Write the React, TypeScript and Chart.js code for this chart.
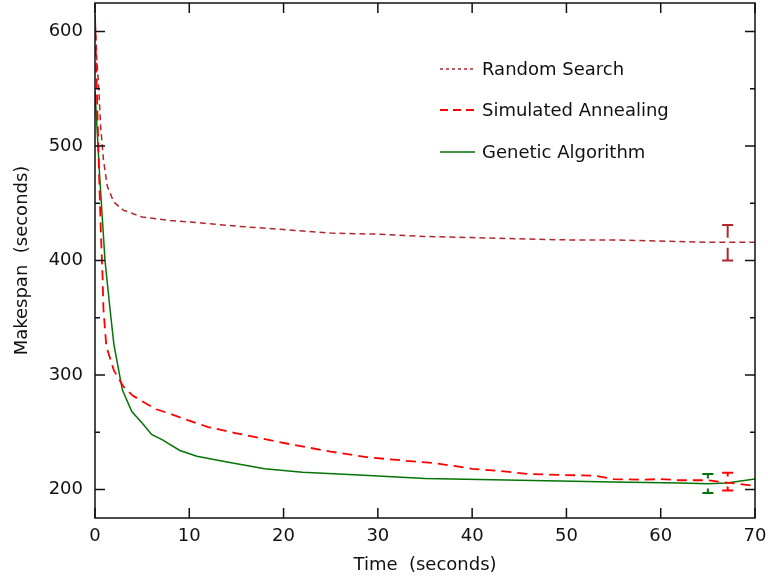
import React, { useEffect, useRef } from 'react';
import { Chart, registerables } from 'chart.js';

Chart.register(...registerables);

// ---- Data ----
const seriesNames = ['Random Search', 'Simulated Annealing', 'Genetic Algorithm'];

const rsTime = [0, 0.2, 0.4, 0.6, 0.9, 1.3, 2, 3, 5, 8, 11, 15, 20, 25, 30, 35, 40, 45, 50, 55, 60, 65, 70];
const rsValue = [615, 575, 550, 517, 488, 465, 451, 444, 438, 435, 433, 430, 427, 424, 423, 421, 420, 419, 418, 418, 417, 416, 416];

const saTime = [0, 0.1, 0.25, 0.45, 0.6, 0.8, 0.9, 1.2, 2, 3, 4, 5, 6.5, 8, 10, 12, 15, 18, 21, 25, 29, 33, 36, 40, 43, 46, 50, 53, 55, 58, 60, 62, 65, 67, 70];
const saValue = [615, 580, 532, 470, 430, 386, 357, 325, 304, 290, 282, 277, 270, 266, 260, 254.5, 249, 244, 239, 233, 228, 225, 223, 218, 216, 213.5, 212.5, 212, 209, 208.5, 209, 208, 208, 206, 203];

const gaTime = [0, 0.5, 1.06, 1.6, 2, 2.9, 3.9, 5, 6, 7.2, 9, 10.8, 14, 18, 22, 28, 35, 45, 55, 62, 65, 67, 70];
const gaValue = [548, 473, 400, 357, 327, 287, 268, 258, 248, 243, 234, 229, 224, 218, 215, 212.5, 209.5, 208, 206.5, 205.5, 205, 205.5, 209];

// error bars: one per series (same order as seriesNames)
const errTime = [67.1, 67.1, 65.0];
const errLow = [400, 199, 196.8];
const errHigh = [431, 214.6, 213.4];

const xTicks = [0, 10, 20, 30, 40, 50, 60, 70];
const yTicks = [200, 300, 400, 500, 600];
const yMinorTicks = [250, 350, 450, 550];

const FONT = '"DejaVu Sans", sans-serif';

const toPoints = (t: number[], v: number[]) => t.map((x, i) => ({ x, y: v[i] }));

const framePlugin = {
  id: 'frameTicks',
  afterDraw(chart: any) {
    const { ctx, chartArea, scales } = chart;
    const { left, right, top, bottom } = chartArea;
    const xs = scales.x;
    const ys = scales.y;
    ctx.save();
    ctx.strokeStyle = '#111';
    ctx.lineWidth = 1.5;
    ctx.strokeRect(left, top, right - left, bottom - top);
    ctx.beginPath();
    xTicks.forEach((v) => {
      const px = xs.getPixelForValue(v);
      ctx.moveTo(px, bottom);
      ctx.lineTo(px, bottom - 10);
      ctx.moveTo(px, top);
      ctx.lineTo(px, top + 10);
    });
    yTicks.forEach((v) => {
      const py = ys.getPixelForValue(v);
      ctx.moveTo(left, py);
      ctx.lineTo(left + 10, py);
      ctx.moveTo(right, py);
      ctx.lineTo(right - 10, py);
    });
    yMinorTicks.forEach((v) => {
      const py = ys.getPixelForValue(v);
      ctx.moveTo(left, py);
      ctx.lineTo(left + 5, py);
      ctx.moveTo(right, py);
      ctx.lineTo(right - 5, py);
    });
    ctx.stroke();

    // legend
    const lx0 = 440, lx1 = 475, tx = 482;
    const rowsY = [69, 110, 152];
    ctx.font = `18px ${FONT}`;
    ctx.textBaseline = 'middle';
    ctx.textAlign = 'left';
    chart.data.datasets.forEach((ds: any, i: number) => {
      ctx.beginPath();
      ctx.strokeStyle = ds.borderColor;
      ctx.lineWidth = ds.borderWidth;
      ctx.setLineDash(ds.legendDash || []);
      ctx.moveTo(lx0, rowsY[i]);
      ctx.lineTo(lx1, rowsY[i]);
      ctx.stroke();
      ctx.setLineDash([]);
      ctx.fillStyle = '#111';
      ctx.fillText(ds.label, tx, rowsY[i] + 1);
    });
    ctx.restore();
  },
  afterDatasetsDraw(chart: any) {
    const { ctx, scales } = chart;
    const xs = scales.x;
    const ys = scales.y;
    ctx.save();
    chart.data.datasets.forEach((ds: any, i: number) => {
      const px = xs.getPixelForValue(errTime[i]);
      const pLo = ys.getPixelForValue(errLow[i]);
      const pHi = ys.getPixelForValue(errHigh[i]);
      const mid = (pLo + pHi) / 2;
      const gap = 5;
      const cap = 5.5;
      ctx.strokeStyle = ds.borderColor;
      ctx.lineWidth = 2;
      ctx.beginPath();
      ctx.moveTo(px, pHi);
      ctx.lineTo(px, mid - gap);
      ctx.moveTo(px, pLo);
      ctx.lineTo(px, mid + gap);
      ctx.moveTo(px - cap, pHi);
      ctx.lineTo(px + cap, pHi);
      ctx.moveTo(px - cap, pLo);
      ctx.lineTo(px + cap, pLo);
      ctx.stroke();
    });
    ctx.restore();
  },
};

export default function App() {
  const canvasRef = useRef<HTMLCanvasElement | null>(null);

  useEffect(() => {
    const canvas = canvasRef.current;
    if (!canvas) return;
    const chart = new Chart(canvas, {
      type: 'line',
      data: {
        datasets: [
          {
            label: seriesNames[0],
            data: toPoints(rsTime, rsValue),
            borderColor: '#b0282e',
            borderWidth: 1.5,
            borderDash: [6, 4],
            legendDash: [3, 3],
            pointRadius: 0,
            tension: 0,
            fill: false,
          } as any,
          {
            label: seriesNames[1],
            data: toPoints(saTime, saValue),
            borderColor: '#ff0000',
            borderWidth: 1.8,
            borderDash: [10, 6],
            legendDash: [8, 5],
            pointRadius: 0,
            tension: 0,
            fill: false,
          } as any,
          {
            label: seriesNames[2],
            data: toPoints(gaTime, gaValue),
            borderColor: '#047404',
            borderWidth: 1.5,
            legendDash: [],
            pointRadius: 0,
            tension: 0,
            fill: false,
          } as any,
        ],
      },
      options: {
        animation: false,
        responsive: false,
        maintainAspectRatio: false,
        layout: { padding: { left: 0, top: 3, right: 13, bottom: 0 } },
        plugins: { legend: { display: false }, tooltip: { enabled: false } },
        scales: {
          x: {
            type: 'linear',
            min: 0,
            max: 70,
            grid: { display: false, drawTicks: false },
            border: { display: false },
            ticks: { color: '#111', font: { family: FONT, size: 18 }, padding: 8, maxRotation: 0 },
            afterBuildTicks: (s: any) => { s.ticks = xTicks.map((v) => ({ value: v })); },
            afterFit: (s: any) => { s.height = 61; s.paddingLeft = 0; s.paddingRight = 0; },
            title: { display: true, text: 'Time  (seconds)', color: '#111', font: { family: FONT, size: 18 }, padding: { top: 0, bottom: 3 } },
          },
          y: {
            type: 'linear',
            min: 175,
            max: 625,
            grid: { display: false, drawTicks: false },
            border: { display: false },
            ticks: { color: '#111', font: { family: FONT, size: 18 }, padding: 12 },
            afterBuildTicks: (s: any) => { s.ticks = yTicks.map((v) => ({ value: v })); },
            afterFit: (s: any) => { s.width = 95; s.paddingTop = 0; s.paddingBottom = 0; },
            title: { display: true, text: 'Makespan  (seconds)', color: '#111', font: { family: FONT, size: 18 }, padding: { top: 12, bottom: 0 } },
          },
        },
      },
      plugins: [framePlugin],
    });
    return () => chart.destroy();
  }, []);

  return (
    <div style={{ position: 'fixed', left: 0, top: 0, width: 768, height: 579, background: '#fff' }}>
      <canvas ref={canvasRef} width={768} height={579} style={{ width: 768, height: 579, display: 'block' }} />
    </div>
  );
}
